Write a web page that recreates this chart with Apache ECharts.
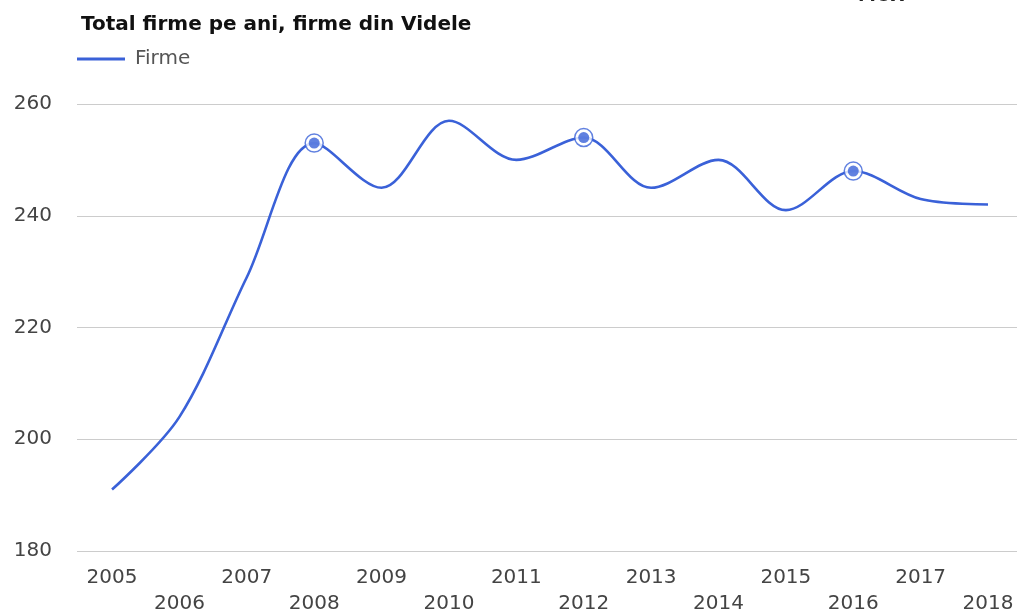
<!DOCTYPE html>
<html>
<head>
<meta charset="utf-8">
<script src="https://cdn.jsdelivr.net/npm/echarts@6/dist/echarts.min.js"></script>
<style>
  html, body { margin: 0; padding: 0; background: #fff; }
  #chart { width: 1017px; height: 613px; }
</style>
</head>
<body>
<div id="chart"></div>
<script>
// date: numar firme pe ani
const years = [2005, 2006, 2007, 2008, 2009, 2010, 2011, 2012, 2013, 2014, 2015, 2016, 2017, 2018]
const firme = [191, 204, 229, 253, 245, 257, 250, 254, 245, 250, 241, 248, 243, 242]
const markedYears = [2008, 2012, 2016]
const yTicks = [180, 200, 220, 240, 260]

const blue = '#3a61d8'
const font = 'DejaVu Sans'

const lineData = years.map((y, i) => [y, firme[i]])
const markData = markedYears.map(y => [y, firme[years.indexOf(y)]])

const myChart = echarts.init(document.getElementById('chart'))
myChart.setOption({
  animation: false,
  title: {
    text: 'Total firme pe ani, firme din Videle',
    left: 76,
    top: 10,
    textStyle: { fontFamily: font, fontSize: 20, fontWeight: 'bold', color: '#111' }
  },
  graphic: [{
    type: 'text',
    left: 858,
    top: -13,
    style: { text: 'MOX', font: 'bold 18px ' + font, fill: '#222' }
  }],
  legend: {
    data: [{ name: 'Firme', icon: 'rect' }],
    left: 77,
    top: 49,
    padding: 0,
    itemWidth: 48,
    itemHeight: 3,
    textStyle: { fontFamily: font, fontSize: 20, color: '#555', padding: [0, 0, 0, 5] }
  },
  grid: { left: 77, right: 0, top: 104, bottom: 62, containLabel: false, outerBoundsMode: 'none' },
  xAxis: {
    type: 'value',
    min: 2004.48,
    max: 2018.43,
    axisLine: { show: false },
    axisTick: { show: false },
    splitLine: { show: false },
    axisLabel: {
      customValues: years,
      margin: 14,
      fontFamily: font,
      fontSize: 20,
      color: '#444',
      lineHeight: 26,
      formatter: v => ((v - 2005) % 2 === 1 ? '\n' + v : '' + v)
    }
  },
  yAxis: {
    type: 'value',
    min: yTicks[0],
    max: yTicks[yTicks.length - 1],
    interval: 20,
    axisLine: { show: false },
    axisTick: { show: false },
    axisLabel: { margin: 25, fontFamily: font, fontSize: 20, color: '#444' },
    splitLine: { lineStyle: { color: '#cccccc', width: 1 } }
  },
  series: [
    {
      name: 'Firme',
      type: 'line',
      data: lineData,
      smooth: 0.33,
      symbol: 'none',
      z: 2,
      lineStyle: { color: blue, width: 2.6 },
      itemStyle: { color: blue }
    },
    {
      name: 'ring',
      type: 'scatter',
      data: markData,
      symbol: 'circle',
      symbolSize: 18,
      z: 3,
      itemStyle: { color: '#fff', borderColor: blue, borderWidth: 1.5 }
    },
    {
      name: 'dot',
      type: 'scatter',
      data: markData,
      symbol: 'circle',
      symbolSize: 11,
      z: 4,
      itemStyle: { color: blue }
    }
  ]
})
</script>
</body>
</html>
